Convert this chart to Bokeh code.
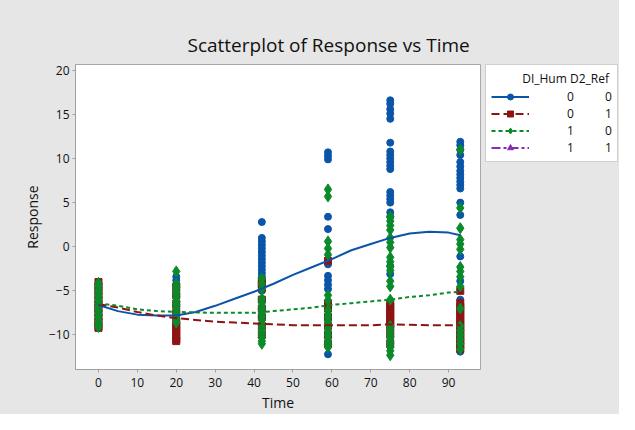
from bokeh.plotting import figure
from bokeh.layouts import row
from bokeh.models import Range1d, FixedTicker, Legend, LegendItem, ColumnDataSource
from bokeh.embed import file_html
from bokeh.resources import INLINE

# ---- data ----
times = [0, 20, 42, 59, 75, 93]

# Group DI_Hum=0, D2_Ref=0 (blue circles)
resp_h0r0 = [
    [-4.2, -4.6, -5.0, -5.4, -5.8, -6.2, -6.6, -7.0, -7.4, -7.8, -8.2, -8.6, -9.0],
    [-3.4, -3.8, -4.4, -5.0, -5.6, -6.2, -6.8, -7.4, -8.0],
    [2.8, 1.0, 0.6, 0.2, -0.2, -0.6, -1.0, -1.4, -1.8, -2.2, -2.6, -3.0, -3.4, -4.0, -5.0, -6.0, -7.0, -8.0],
    [10.7, 10.3, 9.9, 3.4, 2.0, -2.0, -3.3, -3.8, -4.3, -4.8, -8.0, -10.0, -12.2],
    [16.6, 16.2, 15.6, 15.1, 14.5, 11.8, 10.8, 10.4, 10.0, 9.6, 9.2, 8.8, 6.2, 5.8, 5.4, 5.0, 3.9, 3.4, -2.2, -3.1],
    [11.9, 11.5, 11.0, 10.4, 9.6, 9.1, 8.6, 8.2, 7.8, 7.4, 7.0, 6.6, 5.0, 3.6, -1.1, -3.9, -6.0, -11.9],
]
# Group DI_Hum=0, D2_Ref=1 (red squares)
resp_h0r1 = [
    [-4.0, -4.5, -5.0, -5.5, -6.0, -6.5, -7.0, -7.5, -8.0, -8.5, -9.0, -9.2],
    [-4.5, -5.5, -6.5, -7.5, -8.5, -8.9, -9.3, -9.7, -10.1, -10.5, -10.7],
    [-3.9, -4.3, -4.7, -6.0, -7.0, -8.0, -9.0, -10.0],
    [-1.6, -6.4, -7.0, -8.0, -9.0, -10.0, -11.0],
    [-6.4, -6.8, -7.2, -7.6, -8.0, -8.4, -8.8, -9.2, -10.0, -11.0],
    [-5.0, -6.4, -6.8, -7.2, -7.6, -8.0, -8.4, -8.8, -9.2, -9.6, -10.0, -10.4, -10.8, -11.2, -11.6],
]
# Group DI_Hum=1, D2_Ref=0 (green diamonds)
resp_h1r0 = [
    [-4.1, -4.5, -4.9, -5.3, -5.7, -6.1, -6.5, -6.9, -7.3, -7.7, -8.1, -8.5, -8.9, -9.1],
    [-2.8, -4.2, -4.6, -5.0, -5.4, -5.8, -6.2, -6.6, -7.0, -7.4, -7.8, -8.2, -8.6],
    [-3.6, -4.2, -4.8, -5.9, -6.3, -6.7, -7.1, -7.5, -7.9, -8.3, -8.7, -9.1, -9.5, -9.9, -10.3, -10.7, -11.0],
    [6.5, 5.7, 0.6, -0.2, -0.9, -5.5, -6.1, -7.2, -7.6, -8.0, -8.4, -8.8, -9.2, -9.6, -10.0, -10.4, -10.8, -11.1, -11.4],
    [3.4, 2.9, 2.4, 1.9, 1.0, 0.5, -0.1, -1.2, -1.7, -2.2, -2.7, -3.9, -4.5, -6.0, -9.0, -9.4, -9.8, -10.2, -10.6, -11.0, -11.4, -11.8, -12.3],
    [11.0, 4.4, 2.1, 0.8, 0.3, -0.3, -2.3, -2.8, -3.4, -4.5, -7.0, -9.0, -9.5, -10.0, -10.5, -11.0, -11.6],
]
# Group DI_Hum=1, D2_Ref=1 (no observations shown)
resp_h1r1 = [[], [], [], [], [], []]

# Fitted curves
fit_x = [0, 5, 10, 15, 20, 25, 30, 35, 40, 45, 50, 55, 60, 65, 70, 75, 80, 85, 90, 93]
fit_h0r0 = [-6.6, -7.3, -7.7, -7.8, -7.8, -7.4, -6.7, -5.9, -5.1, -4.2, -3.2, -2.3, -1.4, -0.4, 0.3, 1.0, 1.5, 1.7, 1.6, 1.3]
fit_h0r1 = [-6.5, -6.9, -7.4, -7.8, -8.1, -8.3, -8.5, -8.6, -8.7, -8.8, -8.9, -8.9, -8.9, -8.9, -8.9, -8.8, -8.85, -8.9, -8.9, -8.9]
fit_h1r0 = [-6.4, -6.7, -7.1, -7.3, -7.4, -7.45, -7.5, -7.5, -7.5, -7.3, -7.1, -6.9, -6.6, -6.4, -6.2, -6.0, -5.7, -5.5, -5.2, -5.1]
fit_h1r1 = []

legend_title = "DI_Hum D2_Ref"
legend_hum = ["0", "0", "1", "1"]
legend_ref = ["0", "1", "0", "1"]

title_text = "Scatterplot of Response vs Time"
x_ticks = [0, 10, 20, 30, 40, 50, 60, 70, 80, 90]
y_ticks = [-10, -5, 0, 5, 10, 15, 20]


def flatten(groups):
    xs, ys = [], []
    for t, vals in zip(times, groups):
        for v in vals:
            xs.append(t)
            ys.append(v)
    return xs, ys


FONT = "Open Sans"
BG = "#e6e6e6"
TXT = "#111111"

p = figure(width=485, height=414, output_backend="svg", toolbar_location=None,
           x_range=Range1d(-5.9, 98.2), y_range=Range1d(-13.92, 20.66),
           min_border_left=75, min_border_right=5, min_border_top=64, min_border_bottom=36)
p.background_fill_color = "white"
p.border_fill_color = BG
p.outline_line_color = "#a8a8a8"
p.grid.visible = False

p.title.text = title_text
p.title.align = "left"
p.title.offset = 112
p.title.standoff = 14
p.title.text_font = FONT
p.title.text_font_size = "19px"
p.title.text_font_style = "normal"
p.title.text_color = TXT

for ax in (p.xaxis[0], p.yaxis[0]):
    ax.axis_line_color = "#a0a0a0"
    ax.major_tick_line_color = "#a0a0a0"
    ax.minor_tick_line_color = None
    ax.major_tick_in = 0
    ax.major_tick_out = 3
    ax.major_label_text_font = FONT
    ax.major_label_text_font_size = "12px"
    ax.major_label_text_color = TXT
    ax.axis_label_text_font = FONT
    ax.axis_label_text_font_size = "14px"
    ax.axis_label_text_font_style = "normal"
    ax.axis_label_text_color = TXT

p.xaxis.ticker = FixedTicker(ticks=x_ticks)
p.yaxis.ticker = FixedTicker(ticks=y_ticks)
p.xaxis.axis_label = "Time"
p.yaxis.axis_label = "Response"
p.yaxis.major_label_standoff = 3
p.xaxis.major_label_standoff = 5
p.yaxis.axis_label_standoff = 4
p.xaxis.axis_label_standoff = 3

styles = [
    (resp_h0r0, fit_h0r0, "#0a55a8", "circle", 7, "solid"),
    (resp_h0r1, fit_h0r1, "#8e1414", "square", 7, "8 4"),
    (resp_h1r0, fit_h1r0, "#0b8a2a", "diamond", 11, "4 3"),
    (resp_h1r1, fit_h1r1, "#8a2bb8", "triangle", 8, "9 3 3 3"),
]

for groups, fit, color, marker, size, dash in styles:
    xs, ys = flatten(groups)
    p.scatter("x", "y", source=ColumnDataSource(dict(x=xs, y=ys)), marker=marker, size=size,
              fill_color=color, line_color=color, line_width=1)

for groups, fit, color, marker, size, dash in styles:
    fx = fit_x[:len(fit)]
    p.line("x", "y", source=ColumnDataSource(dict(x=fx, y=list(fit))),
           line_color=color, line_width=2, line_dash=dash)

# ---- legend panel (proxy renderers kept outside the visible range) ----
lg = figure(width=134, height=414, output_backend="svg", toolbar_location=None,
            x_axis_type=None, y_axis_type=None, x_range=Range1d(0, 1), y_range=Range1d(0, 1),
            min_border=0)
lg.background_fill_color = BG
lg.border_fill_color = BG
lg.outline_line_color = None
lg.grid.visible = False

proxy = ColumnDataSource(dict(x=[-5, -4], y=[-5, -4]))
items = []
for i, (groups, fit, color, marker, size, dash) in enumerate(styles):
    lr = lg.line("x", "y", source=proxy, line_color=color, line_width=2, line_dash=dash)
    sr = lg.scatter("x", "y", source=proxy, marker=marker, size=size,
                    fill_color=color, line_color=color)
    lab = legend_hum[i] + "\u00a0" * 10 + legend_ref[i]
    items.append(LegendItem(label=lab, renderers=[lr, sr], index=0))

legend = Legend(items=items, location="top_left", margin=0,
                title="\u00a0" * 10 + legend_title, title_text_font=FONT, title_text_font_size="12px",
                title_text_font_style="normal", title_text_color=TXT,
                title_standoff=1,
                label_text_font=FONT, label_text_font_size="12px", label_text_color=TXT,
                glyph_width=38, glyph_height=15, label_height=15, label_standoff=38,
                spacing=0, padding=5,
                border_line_color="#a0a0a0", background_fill_color="white",
                background_fill_alpha=1.0)
lg.add_layout(legend)

layout = row(p, lg, spacing=0, styles={"background-color": BG})
open("out.html", "w").write(file_html(layout, INLINE))
